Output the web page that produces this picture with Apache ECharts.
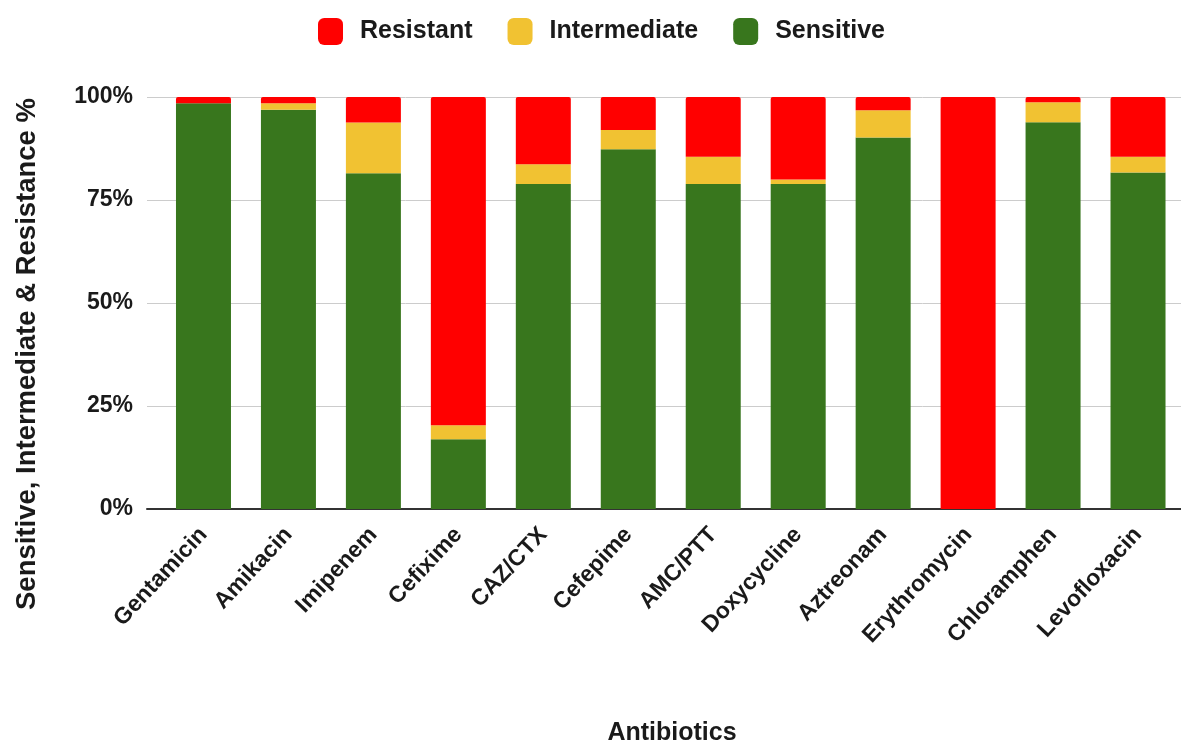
<!DOCTYPE html>
<html>
<head>
<meta charset="utf-8">
<script src="https://cdn.jsdelivr.net/npm/echarts@6/dist/echarts.min.js"></script>
<style>
  html, body { margin: 0; padding: 0; background: #fff; }
  #chart { width: 1181px; height: 745px; }
</style>
</head>
<body>
<div id="chart"></div>
<script>
// Antibiotic susceptibility profile (percent of isolates)
const antibiotics = ['Gentamicin', 'Amikacin', 'Imipenem', 'Cefixime', 'CAZ/CTX', 'Cefepime',
  'AMC/PTT', 'Doxycycline', 'Aztreonam', 'Erythromycin', 'Chloramphen', 'Levofloxacin'];
const sensitive    = [98.5, 96.9, 81.5, 16.9, 78.9, 87.3, 78.9, 78.9, 90.2, 0, 93.9, 81.7];
const intermediate = [0, 1.6, 12.3, 3.4, 4.8, 4.7, 6.6, 1.1, 6.6, 0, 4.8, 3.8];
const resistant    = [1.5, 1.5, 6.2, 79.7, 16.3, 8.0, 14.5, 20.0, 3.2, 100, 1.3, 14.5];
const yTicks = [0, 25, 50, 75, 100];

const FONT = '"Liberation Sans", Arial, sans-serif';
const TEXT = '#1a1a1a';
const colors = { Resistant: '#ff0000', Intermediate: '#f1c232', Sensitive: '#38761d' };

const chart = echarts.init(document.getElementById('chart'), null, { renderer: 'canvas' });

chart.setOption({
  animation: false,
  backgroundColor: '#fff',
  textStyle: { fontFamily: FONT },
  legend: {
    top: 13,
    left: 313,
    data: ['Resistant', 'Intermediate', 'Sensitive'],
    itemWidth: 25,
    itemHeight: 27,
    itemGap: 35,
    icon: 'roundRect',
    textStyle: { fontFamily: FONT, fontSize: 25, fontWeight: 'bold', color: TEXT, padding: [0, 0, 0, 12] }
  },
  grid: [
    { left: 147, right: 0, top: 97, bottom: 236 },
    { left: 161, right: 0.5, top: 97, bottom: 236 }
  ],
  xAxis: [
    {
      gridIndex: 0, type: 'value', min: 0, max: 1,
      axisLine: { show: true, lineStyle: { color: '#333', width: 2 } },
      axisTick: { show: false }, axisLabel: { show: false }, splitLine: { show: false }
    },
    {
      gridIndex: 1, type: 'category', data: antibiotics,
      axisLine: { show: false }, axisTick: { show: false },
      axisLabel: {
        rotate: 47, margin: 22, interval: 0,
        fontFamily: FONT, fontSize: 23, fontWeight: 'bold', color: TEXT
      }
    }
  ],
  yAxis: [
    {
      gridIndex: 0, type: 'value', min: 0, max: 100, interval: 25,
      axisLine: { show: false }, axisTick: { show: false },
      splitLine: { lineStyle: { color: '#cccccc', width: 1 } },
      axisLabel: {
        margin: 14, fontFamily: FONT, fontSize: 23, fontWeight: 'bold', color: TEXT,
        formatter: v => (yTicks.includes(v) ? v + '%' : '')
      }
    },
    {
      gridIndex: 1, type: 'value', min: 0, max: 100, interval: 25, show: false,
      splitLine: { show: false }
    }
  ],
  series: [
    {
      name: 'Sensitive', type: 'bar', stack: 'total', xAxisIndex: 1, yAxisIndex: 1,
      barWidth: 55, data: sensitive, itemStyle: { color: colors.Sensitive }
    },
    {
      name: 'Intermediate', type: 'bar', stack: 'total', xAxisIndex: 1, yAxisIndex: 1,
      barWidth: 55, data: intermediate, itemStyle: { color: colors.Intermediate }
    },
    {
      name: 'Resistant', type: 'bar', stack: 'total', xAxisIndex: 1, yAxisIndex: 1,
      barWidth: 55, data: resistant, itemStyle: { color: colors.Resistant, borderRadius: [2, 2, 0, 0] }
    }
  ],
  graphic: [
    {
      type: 'text', x: 27, y: 354, rotation: Math.PI / 2,
      style: {
        text: 'Sensitive, Intermediate & Resistance %',
        fontFamily: FONT, fontSize: 27.5, fontWeight: 'bold', fill: TEXT,
        align: 'center', verticalAlign: 'middle'
      }
    },
    {
      type: 'text', x: 672, y: 733,
      style: {
        text: 'Antibiotics',
        fontFamily: FONT, fontSize: 25, fontWeight: 'bold', fill: TEXT,
        align: 'center', verticalAlign: 'middle'
      }
    }
  ]
});
</script>
</body>
</html>
